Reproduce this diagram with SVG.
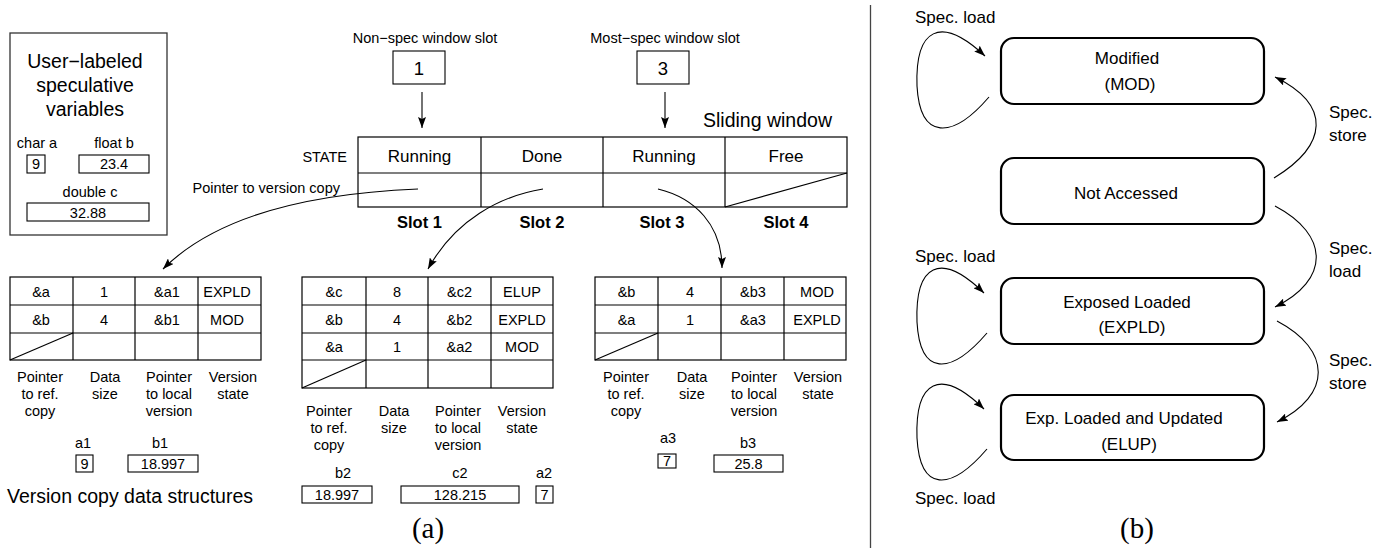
<svg xmlns="http://www.w3.org/2000/svg" width="1391" height="550" viewBox="0 0 1391 550">
<defs>
<marker id="ah" markerUnits="userSpaceOnUse" markerWidth="12" markerHeight="8" refX="11" refY="4" orient="auto"><path d="M0,0 L11,4 L0,8 L2,4 z" fill="#000"/></marker>
</defs>
<style>
text{font-family:"Liberation Sans",Arial,Helvetica,sans-serif;fill:#000}
.c{text-anchor:middle}
.e{text-anchor:end}
.f14{font-size:14.5px}
.f17{font-size:17px}
.f19{font-size:19.5px}
.b{font-weight:bold;font-size:16.5px}
.ln{fill:none;stroke:#000;stroke-width:1.2}
.bx{fill:#fff;stroke:#000;stroke-width:1.1}
.st{fill:#fff;stroke:#000;stroke-width:2.2}
.conn{fill:none;stroke:#000;stroke-width:1.1}
.serif{font-family:"Liberation Serif","Times New Roman",serif;font-size:29px}
</style>
<rect width="1391" height="550" fill="#fff"/>

<g id="user-vars">
<rect x="10" y="33" width="157" height="202" fill="#fff" stroke="#333" stroke-width="1.3"/>
<text class="c f19" x="85" y="68">User−labeled</text>
<text class="c f19" x="85" y="92">speculative</text>
<text class="c f19" x="85" y="116">variables</text>
<text class="c f14" x="37" y="148">char a</text>
<text class="c f14" x="114" y="148">float b</text>
<rect class="bx" x="27" y="155" width="18" height="18"/>
<text class="c f14" x="36" y="169">9</text>
<rect class="bx" x="79" y="155" width="70" height="18"/>
<text class="c f14" x="114" y="169">23.4</text>
<text class="c f14" x="90" y="197">double c</text>
<rect class="bx" x="27" y="203" width="122" height="18"/>
<text class="c f14" x="88" y="217.5">32.88</text>
</g>

<g id="nonspec-slot">
<text class="c f14" x="425" y="43">Non−spec window slot</text>
<rect class="bx" x="393" y="51" width="52" height="33"/>
<text class="c" style="font-size:18.5px" x="419" y="75">1</text>
</g>

<g id="mostspec-slot">
<text class="c f14" x="665" y="43">Most−spec window slot</text>
<rect class="bx" x="637" y="51" width="52" height="33"/>
<text class="c" style="font-size:18.5px" x="663" y="75">3</text>
</g>

<g id="sliding-window">
<text class="f19" x="703" y="127">Sliding window</text>
<text class="e f14" x="347" y="162">STATE</text>
<text class="e f14" x="340" y="193">Pointer to version copy</text>
<rect class="ln" x="358" y="137" width="489" height="70"/>
<line class="ln" x1="358" y1="173" x2="847" y2="173"/>
<line class="ln" x1="481" y1="137" x2="481" y2="207"/>
<line class="ln" x1="603" y1="137" x2="603" y2="207"/>
<line class="ln" x1="725" y1="137" x2="725" y2="207"/>
<line class="ln" x1="725" y1="207" x2="847" y2="173"/>
<text class="c f17" x="419.5" y="162">Running</text>
<text class="c f17" x="542" y="162">Done</text>
<text class="c f17" x="664" y="162">Running</text>
<text class="c f17" x="786" y="162">Free</text>
<text class="c b" x="419.5" y="228">Slot 1</text>
<text class="c b" x="542" y="228">Slot 2</text>
<text class="c b" x="662" y="228">Slot 3</text>
<text class="c b" x="786" y="228">Slot 4</text>
</g>

<g id="version-copy-1">
<rect class="ln" x="10" y="277" width="251" height="83"/>
<line class="ln" x1="10" y1="305" x2="261" y2="305"/>
<line class="ln" x1="10" y1="333" x2="261" y2="333"/>
<line class="ln" x1="73" y1="277" x2="73" y2="360"/>
<line class="ln" x1="135" y1="277" x2="135" y2="360"/>
<line class="ln" x1="198" y1="277" x2="198" y2="360"/>
<line class="ln" x1="10" y1="360" x2="73" y2="333"/>
<text class="c f14" x="41" y="297">&amp;a</text>
<text class="c f14" x="104" y="297">1</text>
<text class="c f14" x="167" y="297">&amp;a1</text>
<text class="c f14" x="227" y="297">EXPLD</text>
<text class="c f14" x="41" y="325">&amp;b</text>
<text class="c f14" x="104" y="325">4</text>
<text class="c f14" x="167" y="325">&amp;b1</text>
<text class="c f14" x="227" y="325">MOD</text>
<text class="c f14" x="40" y="382">Pointer</text>
<text class="c f14" x="40" y="399">to ref.</text>
<text class="c f14" x="40" y="416">copy</text>
<text class="c f14" x="105" y="382">Data</text>
<text class="c f14" x="105" y="399">size</text>
<text class="c f14" x="169" y="382">Pointer</text>
<text class="c f14" x="169" y="399">to local</text>
<text class="c f14" x="169" y="416">version</text>
<text class="c f14" x="233" y="382">Version</text>
<text class="c f14" x="233" y="399">state</text>
<text class="c f14" x="83" y="448">a1</text>
<text class="c f14" x="160" y="448">b1</text>
<rect class="bx" x="76" y="455" width="17" height="17"/>
<text class="c f14" x="84.5" y="469">9</text>
<rect class="bx" x="128" y="455" width="70" height="17"/>
<text class="c f14" x="163" y="469">18.997</text>
</g>

<g id="version-copy-2">
<rect class="ln" x="302" y="277" width="251" height="111"/>
<line class="ln" x1="302" y1="305" x2="553" y2="305"/>
<line class="ln" x1="302" y1="333" x2="553" y2="333"/>
<line class="ln" x1="302" y1="360" x2="553" y2="360"/>
<line class="ln" x1="366" y1="277" x2="366" y2="388"/>
<line class="ln" x1="428" y1="277" x2="428" y2="388"/>
<line class="ln" x1="491" y1="277" x2="491" y2="388"/>
<line class="ln" x1="302" y1="388" x2="366" y2="360"/>
<text class="c f14" x="334" y="297">&amp;c</text>
<text class="c f14" x="397" y="297">8</text>
<text class="c f14" x="459.5" y="297">&amp;c2</text>
<text class="c f14" x="522" y="297">ELUP</text>
<text class="c f14" x="334" y="325">&amp;b</text>
<text class="c f14" x="397" y="325">4</text>
<text class="c f14" x="459.5" y="325">&amp;b2</text>
<text class="c f14" x="522" y="325">EXPLD</text>
<text class="c f14" x="334" y="352">&amp;a</text>
<text class="c f14" x="397" y="352">1</text>
<text class="c f14" x="459.5" y="352">&amp;a2</text>
<text class="c f14" x="522" y="352">MOD</text>
<text class="c f14" x="329" y="416">Pointer</text>
<text class="c f14" x="329" y="433">to ref.</text>
<text class="c f14" x="329" y="450">copy</text>
<text class="c f14" x="394" y="416">Data</text>
<text class="c f14" x="394" y="433">size</text>
<text class="c f14" x="458" y="416">Pointer</text>
<text class="c f14" x="458" y="433">to local</text>
<text class="c f14" x="458" y="450">version</text>
<text class="c f14" x="522" y="416">Version</text>
<text class="c f14" x="522" y="433">state</text>
<text class="c f14" x="343" y="478">b2</text>
<text class="c f14" x="460" y="478">c2</text>
<text class="c f14" x="544" y="478">a2</text>
<rect class="bx" x="302" y="486" width="70" height="17"/>
<text class="c f14" x="337" y="500">18.997</text>
<rect class="bx" x="401" y="486" width="118" height="17"/>
<text class="c f14" x="460" y="500">128.215</text>
<rect class="bx" x="536" y="486" width="17" height="17"/>
<text class="c f14" x="544.5" y="500">7</text>
</g>

<g id="version-copy-3">
<rect class="ln" x="595" y="277" width="251" height="83"/>
<line class="ln" x1="595" y1="305" x2="846" y2="305"/>
<line class="ln" x1="595" y1="333" x2="846" y2="333"/>
<line class="ln" x1="658" y1="277" x2="658" y2="360"/>
<line class="ln" x1="721" y1="277" x2="721" y2="360"/>
<line class="ln" x1="784" y1="277" x2="784" y2="360"/>
<line class="ln" x1="595" y1="360" x2="658" y2="333"/>
<text class="c f14" x="626.5" y="297">&amp;b</text>
<text class="c f14" x="690" y="297">4</text>
<text class="c f14" x="753" y="297">&amp;b3</text>
<text class="c f14" x="817" y="297">MOD</text>
<text class="c f14" x="626.5" y="325">&amp;a</text>
<text class="c f14" x="690" y="325">1</text>
<text class="c f14" x="753" y="325">&amp;a3</text>
<text class="c f14" x="817" y="325">EXPLD</text>
<text class="c f14" x="626" y="382">Pointer</text>
<text class="c f14" x="626" y="399">to ref.</text>
<text class="c f14" x="626" y="416">copy</text>
<text class="c f14" x="692" y="382">Data</text>
<text class="c f14" x="692" y="399">size</text>
<text class="c f14" x="754" y="382">Pointer</text>
<text class="c f14" x="754" y="399">to local</text>
<text class="c f14" x="754" y="416">version</text>
<text class="c f14" x="818" y="382">Version</text>
<text class="c f14" x="818" y="399">state</text>
<text class="c f14" x="668" y="443">a3</text>
<text class="c f14" x="748" y="448">b3</text>
<rect class="bx" x="658" y="454" width="18" height="14"/>
<text class="c f14" x="667" y="466">7</text>
<rect class="bx" x="714" y="455" width="69" height="17"/>
<text class="c f14" x="748.5" y="469">25.8</text>
</g>

<g id="captions-a">
<text class="f19" x="7" y="503">Version copy data structures</text>
<text class="c serif" x="428" y="538">(a)</text>
</g>

<line x1="870.5" y1="5" x2="870.5" y2="548" stroke="#444" stroke-width="1.3"/>

<g id="state-mod">
<rect class="st" x="1001" y="38" width="263" height="66" rx="13"/>
<text class="c f17" x="1127" y="64">Modified</text>
<text class="c f17" x="1130" y="90">(MOD)</text>
</g>
<g id="state-not-accessed">
<rect class="st" x="1001" y="158" width="263" height="66" rx="13"/>
<text class="c f17" x="1126" y="199">Not Accessed</text>
</g>
<g id="state-expld">
<rect class="st" x="1001" y="278" width="263" height="66" rx="13"/>
<text class="c f17" x="1127" y="308">Exposed Loaded</text>
<text class="c f17" x="1132" y="333">(EXPLD)</text>
</g>
<g id="state-elup">
<rect class="st" x="1001" y="395" width="263" height="65" rx="13"/>
<text class="c f17" x="1124" y="424">Exp. Loaded and Updated</text>
<text class="c f17" x="1129" y="450">(ELUP)</text>
</g>

<g id="captions-b">
<text class="f17" x="915" y="23">Spec. load</text>
<text class="f17" x="915" y="262">Spec. load</text>
<text class="f17" x="915" y="504">Spec. load</text>
<text class="f17" x="1329" y="118">Spec.</text>
<text class="f17" x="1329" y="141">store</text>
<text class="f17" x="1329" y="254">Spec.</text>
<text class="f17" x="1329" y="277">load</text>
<text class="f17" x="1329" y="366">Spec.</text>
<text class="f17" x="1329" y="389">store</text>
<text class="c serif" x="1137" y="538">(b)</text>
</g>

<g id="connectors">
<line class="conn" x1="422" y1="92" x2="422" y2="128" marker-end="url(#ah)"/>
<line class="conn" x1="665" y1="92" x2="665" y2="128" marker-end="url(#ah)"/>
<path class="conn" d="M418,189 C320,193 220,212 163,269" marker-end="url(#ah)"/>
<path class="conn" d="M543,189 C500,196 455,220 428,269" marker-end="url(#ah)"/>
<path class="conn" d="M658,189 C695,198 722,225 722,268" marker-end="url(#ah)"/>
<path class="conn" d="M989,97 C952,140 920,140 917,86 C915,29 940,14 985,56" marker-end="url(#ah)"/>
<path class="conn" d="M987,333 C950,376 920,376 917,322 C915,265 940,250 984,293" marker-end="url(#ah)"/>
<path class="conn" d="M987,449 C950,492 920,492 917,438 C915,381 940,366 984,409" marker-end="url(#ah)"/>
<path class="conn" d="M1274,178 C1328,145 1332,105 1275,77" marker-end="url(#ah)"/>
<path class="conn" d="M1275,206 C1330,235 1330,280 1275,307" marker-end="url(#ah)"/>
<path class="conn" d="M1277,321 C1332,350 1332,395 1277,422" marker-end="url(#ah)"/>
</g>
</svg>
